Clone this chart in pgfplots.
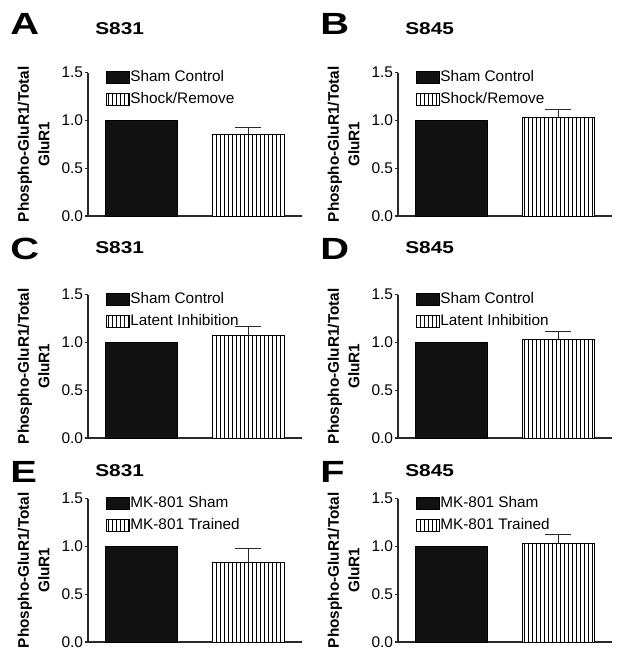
\documentclass[border=0pt]{standalone}
\usepackage{graphicx}
\usepackage{pgfplots}
\pgfplotsset{compat=1.18}
\usepackage{fontspec}
\setmainfont{Liberation Sans}
\usetikzlibrary{patterns.meta}

\definecolor{axisgray}{HTML}{2A2A2A}
\definecolor{barblack}{HTML}{111111}

\pgfplotsset{
  panel/.style={
    scale only axis,
    width=160.5pt, height=107.6pt,
    xmin=0.5, xmax=2.5, ymin=0, ymax=1.5,
    clip=false,
    axis lines*=left,
    axis line style={-, line width=0.9pt, color=axisgray},
    xtick=\empty,
    ytick={0,0.5,1,1.5},
    /pgf/number format/fixed,
    /pgf/number format/fixed zerofill,
    /pgf/number format/precision=1,
    /pgf/number format/assume math mode=true,
    tick label style={font=\fontsize{11.6}{12}\selectfont},
    yticklabel style={inner sep=1pt},
    tick align=outside, major tick length=2.5pt,
    tick style={line width=0.9pt, color=axisgray},
    ylabel={Phospho-GluR1/Total\\GluR1},
    ylabel style={font=\fontsize{11.5}{15.5}\selectfont\bfseries, align=center,
      at={(axis description cs:-0.178,0.5)}, anchor=south, inner sep=0pt},
    title style={font=\fontsize{12.8}{13}\selectfont\bfseries, anchor=base west, inner sep=0pt},
    ybar, bar shift=0pt, bar width=0.673,
    legend image code/.code={\draw[#1] (0pt,-4.5pt) rectangle (17pt,4.5pt);},
    legend cell align=left,
    legend style={draw=none, fill=none, anchor=north west,
      at={(axis description cs:0.084,1.03)}, inner sep=0pt,
      font=\fontsize{11.5}{12}\selectfont, row sep=3.5pt,
      nodes={inner sep=0.5pt, text height=9pt, text depth=3pt}},
  },
  shambar/.style={draw=black, fill=barblack, line width=0.6pt},
  trainbar/.style={draw=black, fill=white, line width=0.6pt,
    postaction={pattern={Lines[angle=90,distance=3pt,line width=0.55pt]}}},
  errstyle/.style={error bars/.cd, y dir=plus, y explicit,
    error bar style={line width=0.9pt, color=axisgray},
    error mark options={rotate=90, mark size=9.75pt, line width=0.9pt, color=axisgray}},
}

% #1 x pos, #2 y pos, #3 title, #4 title rel y, #5 legend 1, #6 legend 2, #7 value, #8 error
\newcommand\panel[8]{%
\begin{axis}[panel, at={(#1,#2)}, anchor=south west,
  title={\scalebox{1.22}[1]{#3}}, title style={at={(axis description cs:0.033,#4)}}]
\addplot[shambar] coordinates {(1,1.0)};
\addlegendentry{#5}
\addplot[trainbar, errstyle] coordinates {(2,#7) +- (0,#8)};
\addlegendentry{#6}
\end{axis}}

\newcommand\letter[1]{\scalebox{1.3}[1]{#1}}

\begin{document}
\begin{tikzpicture}
\useasboundingbox (0,0) rectangle (468pt,493.5pt);
\panel{66pt}{331.5pt}{S831}{1.208}{Sham Control}{Shock/Remove}{0.855}{0.072}
\panel{298.5pt}{331.5pt}{S845}{1.208}{Sham Control}{Shock/Remove}{1.03}{0.08}
\panel{66pt}{165pt}{S831}{1.23}{Sham Control}{Latent Inhibition}{1.07}{0.094}
\panel{298.5pt}{165pt}{S845}{1.23}{Sham Control}{Latent Inhibition}{1.03}{0.085}
\panel{66pt}{12pt}{S831}{1.098}{MK-801 Sham}{MK-801 Trained}{0.83}{0.145}
\panel{298.5pt}{12pt}{S845}{1.098}{MK-801 Sham}{MK-801 Trained}{1.035}{0.085}
\begin{scope}[every node/.style={anchor=base west, inner sep=0pt, font=\fontsize{23}{24}\selectfont\bfseries}]
\node at (7.5pt,467.25pt) {\letter{A}};
\node at (240pt,467.25pt) {\letter{B}};
\node at (7.5pt,298.5pt) {\letter{C}};
\node at (240pt,298.5pt) {\letter{D}};
\node at (7.5pt,131.25pt) {\letter{E}};
\node at (240pt,131.25pt) {\letter{F}};
\end{scope}
\end{tikzpicture}
\end{document}
